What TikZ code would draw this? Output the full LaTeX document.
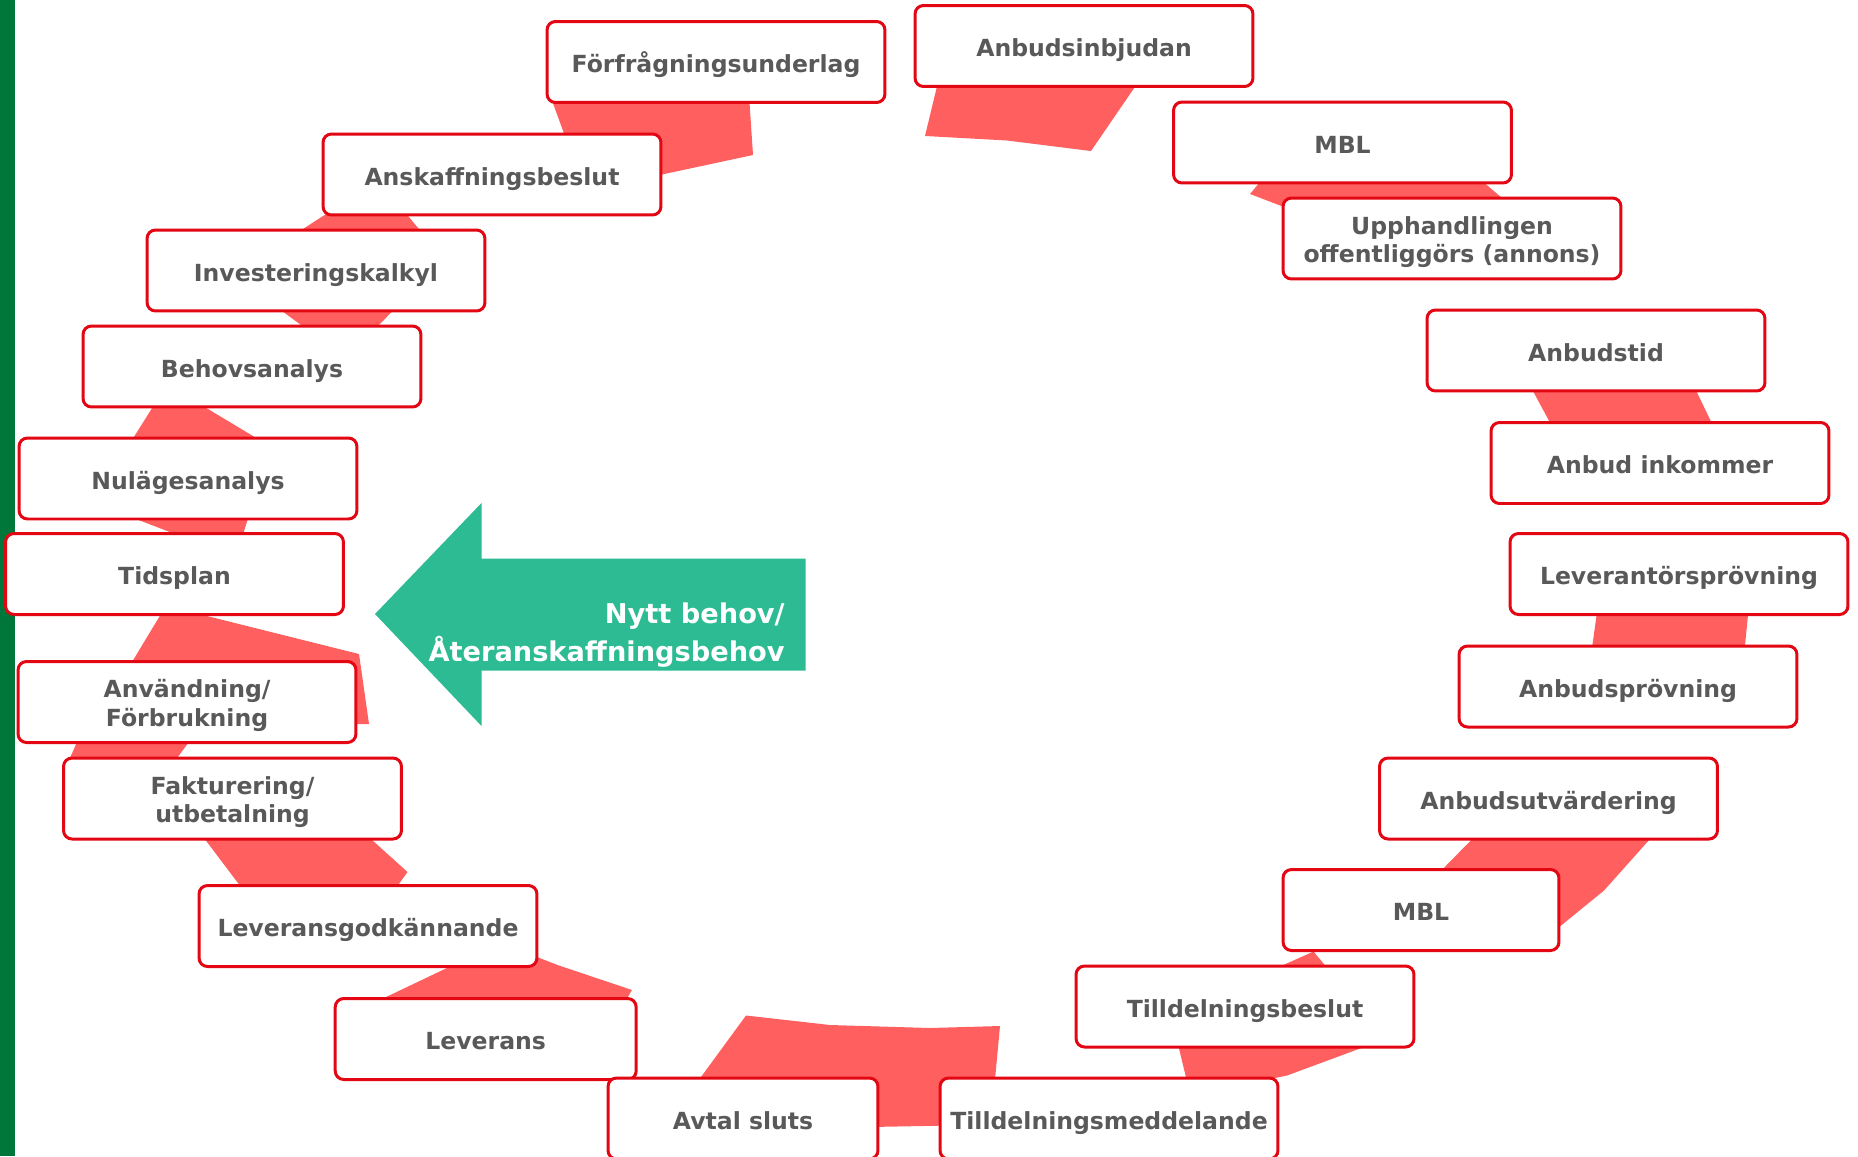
\documentclass[tikz,border=0pt]{standalone}
\usepackage{fontspec}
\setsansfont{DejaVu Sans}
\usepackage{xcolor}
\definecolor{ring}{HTML}{FF5F5F}
\definecolor{boxred}{HTML}{E30613}
\definecolor{txtgray}{HTML}{595959}
\definecolor{arrowgreen}{HTML}{2DBB94}
\definecolor{bargreen}{HTML}{00773A}
\newcommand{\upstrut}{\rule{0pt}{15pt}}

\begin{document}
\begin{tikzpicture}[x=0.02cm, y=-0.02cm, every node/.style={font=\sffamily\bfseries},
  stage/.style={draw=boxred, line width=0.06cm, fill=white, rounded corners=0.17cm, minimum width=6.76cm, minimum height=1.62cm, inner sep=0pt, align=center, text=txtgray, font=\sffamily\bfseries\fontsize{13.4}{16.3}\selectfont,
    execute at begin node={\rule{0pt}{15.8pt}}, execute at end node={\rule[-3.5pt]{0pt}{3.5pt}}},
  band/.style={fill=ring}]
  \useasboundingbox (0,0) rectangle (1858,1156);
  % Green bar on the left
  \fill[bargreen] (0,0) rectangle (15,1156);
  % Ring pieces behind the boxes
  \fill[band] (550,95) -- (749,95) -- (753,155) -- (655,176) -- (570,150) -- cycle;
  \fill[band] (340,205) -- (399,205) -- (428,240) -- (286,240) -- cycle;
  \fill[band] (267,300) -- (403.5,300) -- (368,336) -- (316,336) -- cycle;
  \fill[band] (159,397) -- (188,397) -- (273,448) -- (127,448) -- cycle;
  \fill[band] (110,509) -- (251,509) -- (240,544) -- (201,544) -- cycle;
  \fill[band] (167,604) -- (185,604) -- (199,614) -- (359,654) -- (369,724) -- (340,724) -- (126,672) -- cycle;
  \fill[band] (80,735) -- (194,735) -- (172,765) -- (67,765) -- cycle;
  \fill[band] (198,830) -- (361,830) -- (407.5,872) -- (391,895) -- (247,895) -- cycle;
  \fill[band] (470,957) -- (520,950) -- (537,957) -- (557.5,965) -- (632,990) -- (621,1008) -- (363,1008) -- cycle;
  \fill[band] (690,1092) -- (746,1015.5) -- (830,1025) -- (930,1028) -- (1000,1026) -- (994,1090) -- (950,1125.5) -- (870,1127) -- (700,1100) -- cycle;
  \fill[band] (1177,1040) -- (1383,1040) -- (1287,1075.5) -- (1275,1078) -- (1255,1090) -- (1189,1090) -- cycle;
  \fill[band] (1261,975) -- (1313.5,951.5) -- (1333,975) -- cycle;
  \fill[band] (1481,830) -- (1658,830) -- (1604,890.5) -- (1559.6,926.7) -- (1540,935) -- (1432,880) -- cycle;
  \fill[band] (1598,605) -- (1749,605) -- (1744,655) -- (1591,655) -- cycle;
  \fill[band] (1527,380) -- (1691,380) -- (1716,432) -- (1555,432) -- cycle;
  \fill[band] (1265,175) -- (1475,175) -- (1502,198) -- (1500,210) -- (1290,210) -- (1284,207) -- (1250,194) -- (1260,182) -- cycle;
  \fill[band] (939,78) -- (925,136) -- (1007,140.5) -- (1091,151) -- (1141,78) -- cycle;
  % Arrow in the middle
  \fill[arrowgreen] (375,614) -- (481.5,503) -- (481.5,558.6) -- (805.5,558.6) -- (805.5,670.5) -- (481.5,670.5) -- (481.5,726) -- cycle;
  \node[anchor=east, align=right, inner sep=0pt, text=white, font=\sffamily\bfseries\fontsize{15.5}{21.4}\selectfont] (need) at (785,635) {Nytt behov/\\Återanskaffningsbehov};
  % Stages, left side
  \node[stage] (forfr) at (716,62) {Förfrågningsunderlag};
  \node[stage] (anskaff) at (492,174.5) {Anskaffningsbeslut};
  \node[stage] (invest) at (316,270.5) {Investeringskalkyl};
  \node[stage] (behov) at (252,366.5) {Behovsanalys};
  \node[stage] (nulage) at (188,478.5) {Nulägesanalys};
  \node[stage] (tidsplan) at (174.5,574) {Tidsplan};
  \node[stage] (anvand) at (187,702) {\upstrut Användning/\\Förbrukning};
  \node[stage] (faktura) at (232.5,798.5) {\upstrut Fakturering/\\utbetalning};
  \node[stage] (levgodk) at (368,926) {Leveransgodkännande};
  \node[stage, minimum width=6.02cm] (leverans) at (485.7,1039) {Leverans};
  \node[stage, minimum width=5.4cm] (avtal) at (743,1118.5) {Avtal sluts};
  % Stages, right side
  \node[stage] (tillmedd) at (1109,1118.5) {Tilldelningsmeddelande};
  \node[stage] (tillbes) at (1245,1006.5) {Tilldelningsbeslut};
  \node[stage, minimum width=5.52cm] (mblb) at (1421,910) {MBL};
  \node[stage] (utvard) at (1548.5,798.5) {Anbudsutvärdering};
  \node[stage] (anbprov) at (1628,686.5) {Anbudsprövning};
  \node[stage] (levprov) at (1679,574) {Leverantörsprövning};
  \node[stage] (inkommer) at (1660,463) {Anbud inkommer};
  \node[stage] (anbtid) at (1596,350.5) {Anbudstid};
  \node[stage] (annons) at (1452,238.5) {\upstrut Upphandlingen\\offentliggörs (annons)};
  \node[stage] (mbla) at (1342.5,142.5) {MBL};
  \node[stage] (inbjud) at (1084,46) {Anbudsinbjudan};
\end{tikzpicture}
\end{document}
